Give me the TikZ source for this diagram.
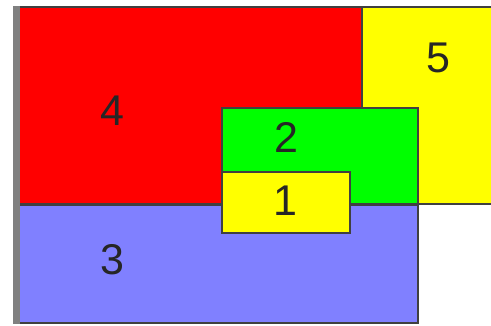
\documentclass[tikz,border=0pt]{standalone}
\usepackage{fontspec}
\setmainfont{Liberation Sans}
\definecolor{bluish}{HTML}{8080FF}
\definecolor{yel}{HTML}{FFFF00}
\definecolor{grn}{HTML}{00FF00}
\definecolor{rd}{HTML}{FF0000}
\begin{document}
\begin{tikzpicture}[x=1pt,y=-1pt,
  box/.style={draw=black!75,line width=1.6pt},
  lab/.style={font=\fontsize{43}{43}\selectfont,inner sep=0pt,text=black!85}]
\useasboundingbox (0,0) rectangle (491,325);
\fill[white] (0,0) rectangle (491,325);
% 4 red
\path[box,fill=rd] (15,7) rectangle (362,204);
% 5 yellow
\path[box,fill=yel] (362,7) rectangle (495,204);
% 3 blue
\path[box,fill=bluish] (15,205) rectangle (418,323);
% 2 green
\path[box,fill=grn] (222,108) rectangle (418,204);
% 1 yellow
\path[box,fill=yel] (222,172) rectangle (350,233);
% left grey edge
\fill[gray] (13,6) rectangle (20,324);
\node[lab] (n4) at (112,111) {4};
\node[lab] (n5) at (438,58) {5};
\node[lab] (n3) at (112,260) {3};
\node[lab] (n2) at (286,137) {2};
\node[lab] (n1) at (285,201) {1};
\end{tikzpicture}
\end{document}
